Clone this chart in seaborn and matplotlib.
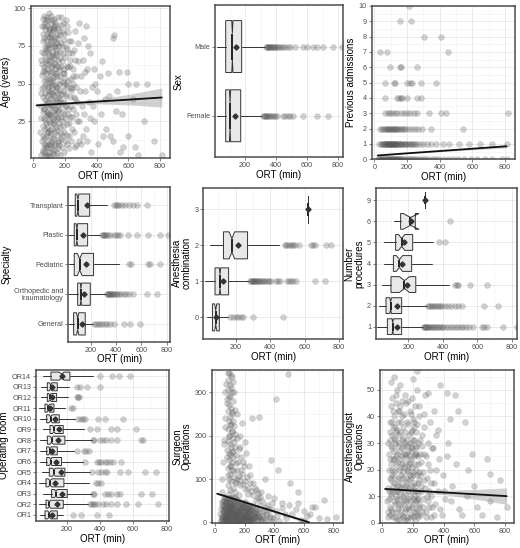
import numpy as np
import pandas as pd
import matplotlib
matplotlib.use("Agg")
import matplotlib.pyplot as plt
import seaborn as sns
from matplotlib.ticker import MultipleLocator, FixedLocator

# ---------------- DATA ----------------
# Panel 1: Age vs ORT
age_pts = [(45,3),(52,12),(60,22),(48,35),(55,47),(62,58),(50,66),(58,78),(65,88),(70,95),
(72,5),(78,15),(68,27),(75,39),(82,50),(70,61),(77,72),(85,83),(80,92),(88,8),
(90,18),(95,30),(86,42),(92,54),(98,65),(90,76),(96,86),(100,97),(102,2),(108,11),
(104,24),(110,36),(106,45),(112,57),(100,69),(115,80),(108,90),(118,6),(120,20),(125,32),
(116,44),(122,52),(128,63),(120,74),(126,85),(130,93),(132,10),(138,26),(134,38),(140,48),
(136,60),(142,70),(138,81),(145,89),(148,4),(150,16),(155,28),(146,40),(152,55),(158,66),
(150,77),(156,87),(160,9),(165,21),(162,33),(168,46),(164,59),(170,71),(166,82),(172,94),
(175,13),(180,25),(178,37),(185,51),(176,62),(182,75),(188,85),(190,5),(195,18),(192,30),
(198,43),(194,57),(200,68),(196,79),(205,92),(210,10),(215,23),(208,35),(212,48),(218,61),
(214,73),(220,84),(225,15),(230,28),(228,41),(235,53),(232,66),(238,78),(245,20),(250,33),
(242,47),(248,60),(255,72),(260,8),(265,40),(270,55),(262,85),(275,25),(280,65),(285,12),
(58,5),(64,14),(70,33),(76,44),(66,52),(74,68),(84,75),(88,60),(94,38),(98,25),(103,15),
(112,28),(118,40),(124,58),(130,42),(135,18),(142,33),(147,62),(128,75),(113,66),(93,48),
(83,29),(67,80),(79,57),(99,84),(119,92),(139,55),(157,44),(163,12),(127,3),(105,53),(95,71),
(85,36),(73,20),(63,41),(57,63),(53,88),(111,78),(133,87),(153,35),(62,6),(68,10),(74,2),
(80,24),(86,18),(92,12),(96,5),(101,30),(107,19),(114,9),(121,14),(126,24),(131,31),(137,9),
(143,21),(149,27),(154,7),(159,50),(167,40),(173,28),(183,15),(186,45),(191,60),(201,35),
(206,50),(221,30),(226,70),(240,45),(252,50),(268,30),(66,70),(81,64),(97,43),(109,61),
(123,69),(141,77),(89,94),(71,86),(117,49),(133,23),(91,2),(61,31),(77,9),(104,81),
(43,18),(47,27),(51,44),(54,56),(57,71),(59,83),(61,93),(63,15),(65,33),(67,48),(69,59),
(71,74),(73,90),(75,8),(76,26),(78,37),(79,53),(81,66),(82,79),(84,88),(86,3),(87,21),(89,31),
(90,46),(91,63),(93,73),(94,81),(95,92),(97,10),(98,34),(99,50),(101,58),(102,76),(103,87),
(105,7),(106,29),(107,40),(109,51),(110,68),(111,83),(113,95),(114,17),(115,35),(117,47),
(118,62),(119,71),(121,86),(122,4),(123,27),(124,43),(126,54),(127,67),(129,79),(130,88),
(131,13),(132,36),(134,49),(135,64),(137,74),(138,91),(139,6),(141,30),(142,45),(144,57),
(145,69),(146,83),(148,19),(149,38),(151,48),(152,72),(153,80),(155,94),(156,11),(157,32),
(159,41),(160,61),(161,75),(163,85),(164,24),(166,52),(167,67),(169,3),(170,37),(171,55),
(173,77),(174,89),(176,17),(177,43),(179,65),(181,31),(182,8),(184,57),(186,70),(187,90),
(189,22),(191,49),(193,38),(194,83),(197,12),(199,54),(202,27),(203,74),(207,42),(209,62),
(211,88),(213,16),(216,33),(219,52),(222,7),(224,78),(227,24),(231,47),(234,62),(236,35),
(239,12),(243,70),(246,28),(251,55),(254,41),(258,18),(263,66),(267,48),(272,9),(277,38),
(282,77),(288,25),(295,45),(302,10),(312,66),(318,30),(328,58),(338,12),(345,75),(355,27),
(370,48),(385,60),
(290,90),(300,55),(305,35),(310,15),(320,80),(325,45),(330,88),(335,20),(340,60),(350,38),
(360,70),(365,5),(375,35),(380,25),(390,50),(400,45),(410,10),(420,55),(425,30),(430,65),
(440,15),(450,40),(460,20),(470,57),(480,42),(485,15),(500,80),(505,12),(510,82),(520,32),
(530,45),(540,58),(545,5),(560,30),(565,8),(590,58),(600,15),(600,50),(630,40),(640,8),
(650,50),(660,3),(700,25),(720,50),(760,12),(810,3)]
age_ort = [p[0] for p in age_pts]
age_years = [p[1] for p in age_pts]
age_fit_x = [20, 200, 400, 600, 810]
age_fit_y = [35.6, 36.8, 38.1, 39.4, 40.8]
age_fit_half = [1.0, 0.8, 1.5, 3.5, 6.3]

# Panel 3: previous admissions
prev_rows = {
    0: [20,28,35,42,48,55,60,65,70,75,80,85,90,95,100,105,110,115,120,125,130,135,140,145,150,155,
        160,170,180,190,200,210,220,230,240,250,265,280,295,310,330,350,370,390,420,450,480,510,
        550,590,630,680,720,780,815],
    1: [30,38,45,52,58,64,70,75,80,85,90,95,100,105,110,115,120,125,130,135,140,150,160,170,180,
        190,200,215,230,245,260,280,300,320,345,380,420,460,520,580,650,720,810,
        62,78,88,98,108,118,128,145,155,165,185,205,225,250],
    2: [35,45,55,65,75,85,92,100,108,115,125,135,145,155,165,180,195,210,230,250,270,293,345,541,
        70,95,120,140,175],
    3: [66,80,95,110,125,140,160,180,200,220,240,262,335,407,438,820],
    4: [66,138,150,160,170,200,262,283],
    5: [66,118,128,200,215,231,283,376],
    6: [97,155,162,262],
    7: [35,76,453],
    8: [304,407],
    9: [155,221],
    10: [211],
}
prev_ort = [x for k, v in prev_rows.items() for x in v]
prev_adm = [k for k, v in prev_rows.items() for x in v]
prev_fit_x = [20, 200, 400, 600, 810]
prev_fit_y = [0.25, 0.39, 0.54, 0.69, 0.85]
prev_fit_half = [0.03, 0.02, 0.04, 0.07, 0.10]

# Panel 8: surgeon operations
surg_pts = [(95,345),(110,340),(85,330),(120,325),(100,318),(90,305),(115,300),(105,292),(80,285),
(125,280),(95,272),(110,265),(88,258),(118,250),(100,243),(92,235),(108,228),(130,222),(85,215),
(112,208),(98,200),(120,195),(90,188),(105,180),(135,175),(80,168),(115,162),(100,155),(125,150),
(95,143),(140,138),(108,130),(88,125),(118,120),(100,112),(130,105),(92,100),(110,95),(145,90),
(85,85),(120,80),(102,75),(135,70),(95,66),(160,62),(150,250),(180,230),(170,200),(200,185),
(160,170),(210,160),(190,140),(230,130),(175,120),(240,110),(150,100),(200,95),(260,90),(220,80),
(280,75),(170,85),(60,180),(55,140),(50,100),(65,220),(70,300),(45,70),(250,240),(300,244),
(380,144),(425,121),(414,286),(494,342),(340,100),(310,70),(360,60),(400,55),(450,45),(506,90),
(563,71),(500,40),(550,30),(600,25),(655,36),(678,36),(620,15),(700,10),(736,51),(760,8),(816,13),
(580,5),(470,20),(420,15),(380,30),(350,40),(320,50),(290,55),(330,25),
(62,190),(68,240),(72,320),(78,150),(82,275),(86,110),(88,345),(92,200),(96,160),(98,290),
(102,225),(104,130),(106,310),(108,175),(112,255),(114,140),(116,210),(118,335),(122,165),
(124,235),(126,118),(128,300),(132,185),(134,260),(136,92),(138,205),(142,155),(146,120),
(152,195),(156,140),(162,108),(168,175),(172,98),(178,150),(184,112),(192,88),(198,130),
(206,76),(214,104),(224,66),(234,90),(244,72),(256,62),(268,80),(276,52),(292,68),(306,58),
(40,5),(50,15),(60,25),(70,35),(80,45),(90,55),(45,40),(55,50),(65,10),(75,20),(85,30),(95,40),
(105,50),(115,10),(125,20),(135,30),(145,40),(155,50),(165,5),(175,15),(185,25),(195,35),(205,45),
(215,8),(225,18),(235,28),(245,38),(255,10),(265,22),(275,32),(285,5),(295,15),(60,2),(70,8),
(80,3),(90,12),(100,6),(110,18),(120,4),(130,9),(140,14),(150,2),(160,26),(170,33),(180,7),
(190,12),(200,20),(210,28),(220,3),(230,10),(240,15),(250,25),(100,28),(110,38),(120,45),(130,55),
(140,5),(150,22),(95,18),(85,8),(75,48),(65,42),(55,28),(45,12),(35,20),(38,3),(58,58),(68,16),
(78,26),(88,36),(98,4),(108,24),(118,34),(128,42),(138,48),(148,12),(158,16),(168,44),(178,36),
(188,40),(198,6),(208,14),(218,30),(228,36),(238,4),(248,8),(260,40),(270,12),(280,20),(300,30),
(310,8),(320,15),(340,5),(350,18),(370,10),(390,3),(72,12),(83,22),(93,2),(103,14),(113,26),
(123,8),(133,16),(143,24),(153,6),(163,18),(173,2),(183,10),(62,32),(92,46),(112,58),(102,36),
(42,30),(46,8),(48,48),(52,22),(54,3),(57,37),(59,14),(61,52),(63,28),(66,6),(67,44),(69,19),
(71,58),(73,31),(74,2),(77,12),(79,40),(81,24),(83,53),(84,7),(87,33),(89,17),(91,47),(93,26),
(94,10),(97,56),(99,35),(101,1),(103,21),(104,44),(107,11),(109,30),(111,53),(113,5),(114,40),
(117,24),(119,14),(121,33),(123,49),(124,2),(127,27),(129,16),(131,38),(133,7),(134,59),(137,22),
(139,44),(141,12),(143,31),(144,3),(147,26),(149,52),(151,17),(153,36),(154,8),(157,29),(159,1),
(161,41),(163,20),(164,11),(167,34),(169,4),(171,25),(173,48),(174,15),(177,6),(179,30),(181,19),
(183,42),(184,2),(187,27),(189,10),(191,37),(193,18),(194,5),(197,32),(199,24),(201,13),(203,46),
(204,3),(207,22),(209,35),(211,9),(213,17),(214,28),(217,40),(219,6),(221,21),(223,12),(224,33),
(227,26),(229,2),(231,15),(233,39),(234,8),(237,22),(239,30),(241,11),(243,4),(247,18),(251,27),
(255,7),(259,34),(262,14),(265,3),(269,24),(273,10),(278,31),(283,16),(289,6),(293,22),(299,12),
(304,40),(311,3),(318,27),(327,11),(335,35),(345,20),(352,6),(362,30),(373,14),(387,44),(395,9),
(410,25),(430,2),(455,33),(480,10),(520,18),(560,45),(600,4),(640,20)]
surg_ort = [p[0] for p in surg_pts]
surg_ops = [p[1] for p in surg_pts]
surg_fit_x = [15, 200, 400, 635]
surg_fit_y = [66, 46.3, 25, 0]
surg_fit_half = [2.0, 1.5, 2.5, 4.0]

# Panel 9: anesthesiologist operations
anes_pts = [(60,53),(80,55),(100,50),(120,52),(150,48),(170,46),(200,54),(225,57),(230,50),(90,45),
(110,42),(130,40),(160,38),(190,41),(210,36),(240,44),(260,33),(280,48),(300,49),(330,28),(378,52),
(422,49),(476,48),(497,42),(443,39),(540,38),(367,35),(584,26),(681,24),(703,18.5),(811,6),(768,16),
(350,20),(320,15),(400,12),(450,8),(500,5),(550,10),(600,14),(650,3),(700,8),(750,2),(420,25),
(380,5),(300,22),(290,10),(270,26),(250,18),(310,38),(340,42),(270,41),
(40,2),(50,6),(60,10),(70,14),(80,18),(90,22),(100,26),(110,30),(120,34),(130,3),(140,7),(150,11),
(160,15),(170,19),(180,23),(190,27),(200,31),(210,4),(220,8),(230,12),(240,16),(45,20),(55,24),
(65,28),(75,32),(85,36),(95,1),(105,5),(115,9),(125,13),(135,17),(145,21),(155,25),(165,29),
(175,33),(185,2),(195,6),(205,10),(215,14),(225,18),(235,22),(245,26),(48,12),(58,16),(68,4),
(78,8),(88,12),(98,16),(108,20),(118,24),(128,28),(138,32),(148,1),(158,5),(168,9),(178,13),
(188,17),(198,21),(208,25),(218,29),(228,3),(238,7),(62,38),(72,42),(82,30),(92,34),(102,38),
(112,14),(122,18),(132,22),(142,26),(152,30),(162,2),(172,6),(182,10),(192,14),(202,18),(212,22),
(222,26),(232,30),(35,8),(42,30),(52,34),(58,44),(66,20),(76,24),(86,2),(96,9),(106,12),(116,3),
(126,7),(136,10),(146,13),(156,17),(166,21),(176,25),(186,29),(196,35),(206,38),(216,1),(226,5),
(236,9),(246,3),(256,12),(266,6),(276,16),(286,4),(296,8),(306,12),(316,2),(326,6),(336,3),
(38,4),(41,13),(44,26),(47,9),(49,31),(51,17),(53,3),(54,38),(56,22),(57,11),(59,29),(61,5),
(63,18),(64,47),(67,33),(69,12),(71,24),(73,2),(74,36),(77,15),(79,27),(81,40),(83,7),(84,20),
(87,31),(89,10),(91,48),(93,25),(94,4),(97,35),(99,14),(101,29),(103,42),(104,7),(107,23),
(109,33),(111,1),(113,17),(114,44),(117,27),(119,11),(121,38),(123,5),(124,21),(127,31),(129,46),
(131,15),(133,25),(134,2),(137,36),(139,19),(141,9),(143,29),(144,41),(147,23),(149,4),(151,34),
(153,14),(154,26),(157,8),(159,45),(161,20),(163,31),(164,1),(167,12),(169,27),(171,37),(173,16),
(174,5),(177,22),(179,42),(181,30),(183,8),(184,18),(187,34),(189,3),(191,24),(193,12),(194,47),
(197,28),(199,7),(201,19),(203,39),(204,2),(207,15),(209,31),(211,9),(213,26),(214,44),(217,12),
(219,34),(221,4),(223,20),(224,28),(227,9),(229,37),(231,15),(233,2),(234,25),(237,11),(239,40),
(241,19),(243,6),(247,31),(251,14),(255,23),(259,4),(262,29),(265,9),(269,19),(273,36),(278,13),
(283,25),(289,2),(293,17),(299,30),(304,6),(311,20),(318,10),(327,28),(335,15),(345,7),(352,33),
(362,12),(373,24),(387,3),(395,18),(410,9),(430,30),(455,14),(480,22),(520,3),(560,20),(620,6)]
anes_ort = [p[0] for p in anes_pts]
anes_ops = [p[1] for p in anes_pts]
anes_fit_x = [20, 200, 400, 600, 810]
anes_fit_y = [12.7, 12.08, 11.4, 10.72, 10.0]
anes_fit_half = [0.6, 0.4, 0.8, 1.8, 3.1]

# Panel 2: Sex (bottom -> top)
sex_labels = ["Female", "Male"]
sex_q1 = [75, 75]; sex_med = [103, 118]; sex_q3 = [172, 178]
sex_lo = [17, 17]; sex_hi = [307, 330]; sex_mean = [138, 142]
sex_cilo = [99, 114]; sex_cihi = [107, 122]
sex_fliers = [[318,322,328,334,340,348,356,365,375,385,395,404,447,460,475,490,512,576,662,737],
              [335,340,345,350,355,360,366,372,378,385,392,400,410,420,430,445,460,475,490,522,576,598,640,662,705,770,823]]

# Panel 4: Specialty (bottom -> top)
spec_labels = ["General", "Orthopedic and\ntraumatology", "Pediatric", "Plastic", "Transplant"]
spec_q1 = [63, 95, 68, 68, 76]; spec_med = [95, 121, 111, 89, 97]; spec_q3 = [155, 195, 221, 174, 190]
spec_lo = [24, 24, 24, 24, 25]; spec_hi = [215, 321, 420, 274, 326]; spec_mean = [129, 142, 160, 137, 168]
spec_cilo = [86, 116, 92, 83, 89]; spec_cihi = [104, 126, 130, 95, 105]
spec_fliers = [[225,240,255,270,290,310,330,350,379,458,511,590],
               [326,332,338,345,352,360,368,376,385,395,405,420,440,460,480,500,537,642,721],
               [500,520,650,665,750],
               [287,295,303,312,322,335,353,379,400,415,432,497,563,655,748,813],
               [379,395,410,425,445,470,500,537,563,642]]

# Panel 5: Anesthesia combination
anc_labels = ["0", "1", "2", "3"]
anc_q1 = [65, 80, 129, 622]; anc_med = [84, 109, 178, 622]; anc_q3 = [105, 159, 269, 622]
anc_lo = [36, 22, 51, 622]; anc_hi = [158, 279, 451, 622]; anc_mean = [84, 129, 212, 622]
anc_cilo = [78, 105, 162, 622]; anc_cihi = [90, 113, 194, 622]
anc_fliers = [[167,186,200,215,230,244,302,476],
              [283,288,293,298,303,308,313,318,324,330,336,342,350,358,366,375,385,396,408,434,445,457,499,510,522,534,553,659,717],
              [486,495,505,515,525,535,544,567,640,650,660,723,756],
              []]

# Panel 6: Number procedures
npr_labels = ["1", "2", "3", "4", "5", "6", "9"]
npr_q1 = [78, 70, 99, 113, 126, 155, 297]; npr_med = [109, 97, 177, 148, 161, 212, 297]
npr_q3 = [161, 161, 243, 219, 225, 240, 297]; npr_lo = [20, 30, 49, 61, 61, 117, 297]
npr_hi = [283, 310, 438, 336, 341, 240, 297]; npr_mean = [136, 132, 190, 165, 177, 218, 297]
npr_cilo = [105, 92, 148, 130, 143, 170, 297]; npr_cihi = [113, 102, 206, 166, 179, 262, 297]
npr_fliers = [[288,293,298,304,310,316,322,328,335,342,350,358,366,375,385,395,403,419,430,445,460,475,490,505,520,535,550,578,626,640,655,752,829],
              [316,322,330,338,346,355,365,375,385,394,413,430,450,470,490,510,641,723],
              [471,480,490,558,655], [], [378,413], [442], []]

# Panel 7: Operating room
or_labels = ["OR%d" % i for i in range(1, 15)]
or_q1 = [70, 76, 110, 76, 96, 80, 80, 84, 100, 80, 70, 84, 84, 106]
or_med = [96, 96, 136, 100, 124, 104, 100, 110, 124, 104, 90, 100, 104, 170]
or_q3 = [144, 180, 204, 184, 190, 170, 144, 190, 180, 156, 124, 140, 144, 220]
or_lo = [40, 36, 56, 36, 50, 40, 40, 40, 56, 40, 36, 44, 44, 60]
or_hi = [180, 330, 350, 336, 340, 300, 244, 350, 304, 250, 190, 210, 216, 360]
or_mean = [110, 140, 170, 130, 164, 136, 110, 150, 156, 130, 100, 112, 114, 174]
or_cilo = [86, 88, 128, 90, 116, 96, 92, 100, 116, 94, 82, 92, 96, 155]
or_cihi = [106, 104, 144, 110, 132, 112, 108, 120, 132, 114, 98, 108, 112, 185]
or_fliers = [[240,284,380,456], [340,350,360,372,390,420,440,470,504,560,630,750],
             [356,362,430,450,470,504,520,650,716], [376,392,410],
             [350,390,410,430,444,520,570,670,736], [310,380,395,410,430,445,460,480,530],
             [264,304,318,336], [356,362,400,420,440,470,504,650,660], [340,380,470,504,620],
             [270,285,300,310,390,430,540], [224,240], [260,268,276], [264,280,324,400],
             [400,476,516,584]]

# ---------------- STYLE ----------------
sns.set_theme(style="white")
plt.rcParams['font.family'] = ['Liberation Sans', 'DejaVu Sans']
TICK_FS = 5.2
LAB_FS = 7
PT_COL = '#5a5a5a'
PT_ALPHA = 0.27
W, H = 520, 548
fig = plt.figure(figsize=(W / 100, H / 100), dpi=100)


def add_ax(l, r, t, b):
    return fig.add_axes([l / W, 1 - b / H, (r - l) / W, (b - t) / H])


def style(ax, ylabel, discrete=False):
    ax.set_axisbelow(True)
    for s in ax.spines.values():
        s.set_color('#4d4d4d')
        s.set_linewidth(1.1)
        s.set_visible(True)
    ax.tick_params(axis='both', which='major', labelsize=TICK_FS, labelcolor='#4d4d4d',
                   length=2, width=0.5, color='#4d4d4d', pad=1.5, left=True, bottom=True)
    ax.tick_params(axis='both', which='minor', length=0)
    ax.xaxis.set_major_locator(FixedLocator([0, 200, 400, 600, 800]))
    ax.xaxis.set_minor_locator(FixedLocator([100, 300, 500, 700]))
    ax.grid(which='major', color='#e6e6e6', lw=0.6)
    ax.grid(which='minor', axis='x', color='#f0f0f0', lw=0.4)
    if not discrete:
        ax.grid(which='minor', axis='y', color='#f0f0f0', lw=0.4)
    ax.set_xlabel('ORT (min)', fontsize=LAB_FS, labelpad=0.5, color='black')
    ax.set_ylabel(ylabel, fontsize=LAB_FS, labelpad=2, color='black', linespacing=0.95)


def scatter_panel(ax, x, y, fx, fy, fh, xlim, ylim, ymaj, ymin, ylabel):
    sns.scatterplot(x=x, y=y, ax=ax, color=PT_COL, alpha=PT_ALPHA, s=17,
                    edgecolor=PT_COL, linewidth=0.4, legend=False, zorder=2)
    lo = [a - b for a, b in zip(fy, fh)]
    hi = [a + b for a, b in zip(fy, fh)]
    ax.fill_between(fx, lo, hi, color='#999999', alpha=0.45, lw=0, zorder=3)
    sns.lineplot(x=fx, y=fy, ax=ax, color='#111111', lw=1.3, zorder=4)
    ax.set_xlim(*xlim)
    ax.set_ylim(*ylim)
    ax.yaxis.set_major_locator(MultipleLocator(ymaj))
    ax.yaxis.set_minor_locator(MultipleLocator(ymin))
    style(ax, ylabel)


def box_panel(ax, labels, q1, med, q3, lo, hi, mean, cilo, cihi, fliers, xlim, ylabel):
    stats = []
    for i in range(len(labels)):
        stats.append(dict(label=labels[i], q1=q1[i], med=med[i], q3=q3[i], whislo=lo[i],
                          whishi=hi[i], mean=mean[i], cilo=cilo[i], cihi=cihi[i], fliers=[]))
    pos = list(range(len(labels)))
    kw = dict(positions=pos, widths=0.75, shownotches=True, showmeans=True, showcaps=False,
              showfliers=False, patch_artist=True,
              boxprops=dict(facecolor='#e8e8e8', edgecolor='#333333', linewidth=0.7),
              whiskerprops=dict(color='#333333', linewidth=0.7),
              medianprops=dict(color='#222222', linewidth=1.4),
              meanprops=dict(marker='D', markerfacecolor='#333333', markeredgecolor='#333333',
                             markersize=2.6))
    try:
        ax.bxp(stats, orientation='horizontal', **kw)
    except TypeError:
        ax.bxp(stats, vert=False, **kw)
    fx = [v for i, fl in enumerate(fliers) for v in fl]
    fy = [pos[i] for i, fl in enumerate(fliers) for v in fl]
    if fx:
        sns.scatterplot(x=fx, y=fy, ax=ax, color=PT_COL, alpha=PT_ALPHA, s=17,
                        edgecolor=PT_COL, linewidth=0.4, legend=False, zorder=2)
    ax.set_xlim(*xlim)
    ax.set_ylim(-0.6, len(labels) - 0.4)
    ax.set_yticks(pos)
    ax.set_yticklabels(labels, fontsize=TICK_FS, color='#4d4d4d', linespacing=0.95,
                       ha='right')
    style(ax, ylabel, discrete=True)


# Row 1
ax1 = add_ax(30.7, 170, 6, 158.3)
scatter_panel(ax1, age_ort, age_years, age_fit_x, age_fit_y, age_fit_half,
              (-17, 862), (0.5, 101.5), 25, 12.5, 'Age (years)')
ax1.set_yticks([25, 50, 75, 100])

ax2 = add_ax(215, 342.7, 5, 157.3)
box_panel(ax2, sex_labels, sex_q1, sex_med, sex_q3, sex_lo, sex_hi, sex_mean, sex_cilo,
          sex_cihi, sex_fliers, (6, 830), 'Sex')

ax3 = add_ax(371.7, 515, 6, 159.3)
scatter_panel(ax3, prev_ort, prev_adm, prev_fit_x, prev_fit_y, prev_fit_half,
              (-17, 862), (0, 10), 1, 0.5, 'Previous admissions')

# Row 2
ax4 = add_ax(68.3, 170, 187.3, 341.7)
box_panel(ax4, spec_labels, spec_q1, spec_med, spec_q3, spec_lo, spec_hi, spec_mean,
          spec_cilo, spec_cihi, spec_fliers, (21, 826), 'Specialty')

ax5 = add_ax(203.3, 343.3, 187.7, 339)
box_panel(ax5, anc_labels, anc_q1, anc_med, anc_q3, anc_lo, anc_hi, anc_mean, anc_cilo,
          anc_cihi, anc_fliers, (12, 825), 'Anesthesia\ncombination')

ax6 = add_ax(376, 516.7, 187.7, 339.3)
box_panel(ax6, npr_labels, npr_q1, npr_med, npr_q3, npr_lo, npr_hi, npr_mean, npr_cilo,
          npr_cihi, npr_fliers, (12, 829), 'Number\nprocedures')

# Row 3
ax7 = add_ax(36, 169.3, 369.7, 521.3)
box_panel(ax7, or_labels, or_q1, or_med, or_q3, or_lo, or_hi, or_mean, or_cilo, or_cihi,
          or_fliers, (16, 818), 'Operating room')

ax8 = add_ax(211.7, 342.7, 370, 522.7)
scatter_panel(ax8, surg_ort, surg_ops, surg_fit_x, surg_fit_y, surg_fit_half,
              (-22, 863), (-1, 352), 100, 50, 'Surgeon\nOperations')

ax9 = add_ax(380, 514, 370, 522.7)
scatter_panel(ax9, anes_ort, anes_ops, anes_fit_x, anes_fit_y, anes_fit_half,
              (-13, 858), (0, 57.5), 10, 5, 'Anesthesiologist\nOperations')

fig.savefig('out.png', dpi=100, facecolor='white')
